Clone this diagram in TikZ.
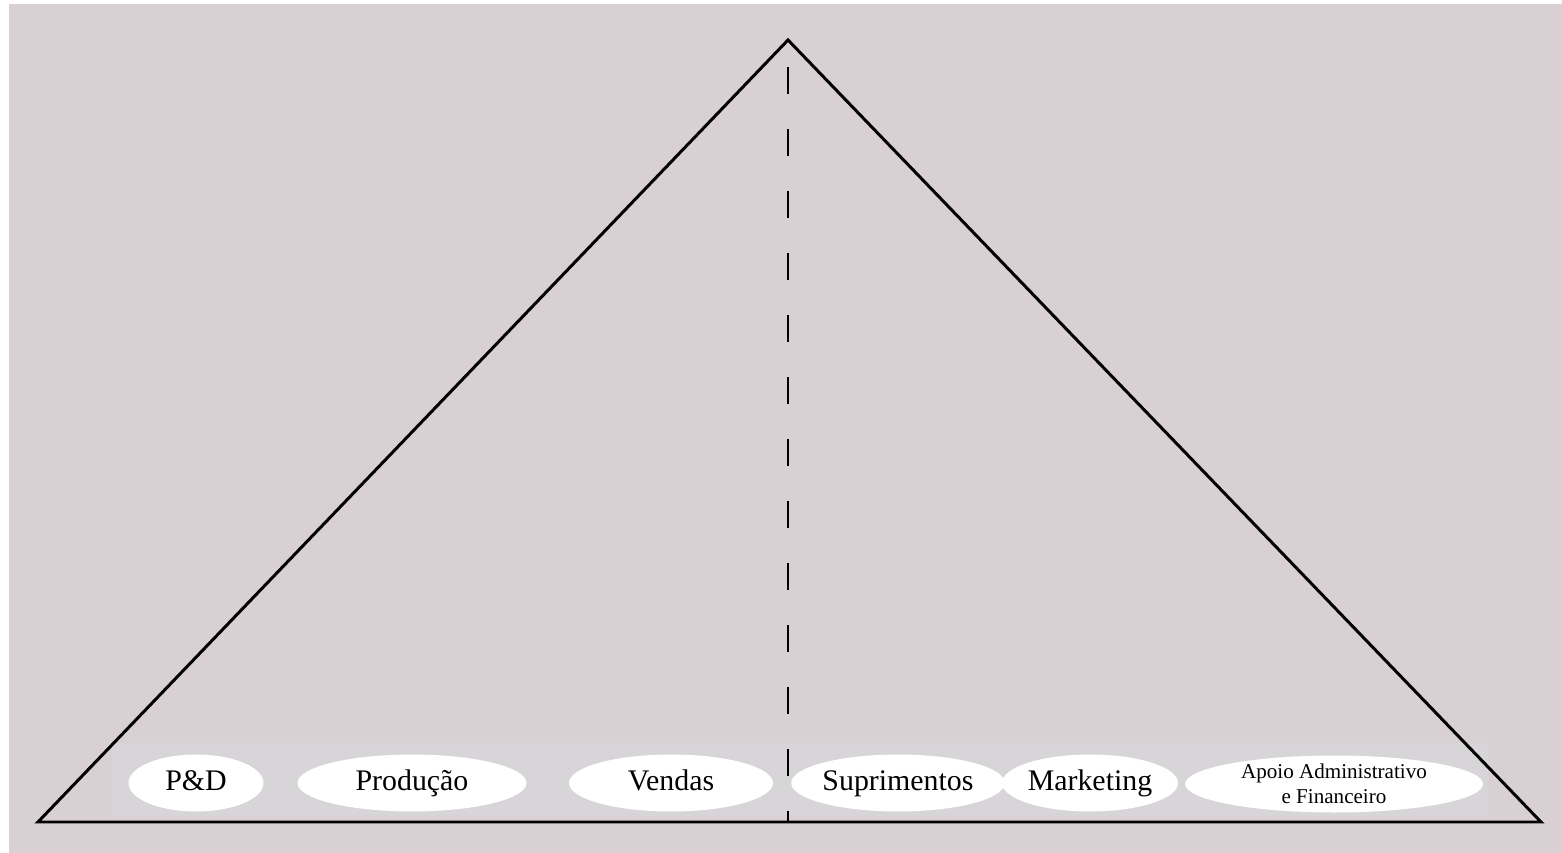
\documentclass[tikz,border=0pt]{standalone}
\usepackage{fontspec}
\setmainfont{Liberation Serif}
\usepackage{tikz}
\usetikzlibrary{calc,positioning,shapes.geometric}
\definecolor{mauvebg}{HTML}{D9D0D4}
\definecolor{bandgrey}{HTML}{D7D5D7}
\tikzset{%
	area/.style     = {draw=none, ellipse, fill=white, inner sep=0pt, minimum height=11.4mm, text centered}, % Functional area
	bigarea/.style  = {area, font=\fontsize{17}{20}\selectfont, text height=12pt, text depth=4pt},
	smallarea/.style= {area, font=\fontsize{12}{14.2}\selectfont, align=center},
	edge/.style     = {line width=1.7pt, line join=miter},
	axis/.style     = {line width=1.2pt, dash pattern=on 5.4mm off 7mm, dash phase=7mm},
}

\begin{document}
\begin{tikzpicture}[x=0.2mm,y=-0.2mm]
		\useasboundingbox (0,0) rectangle (1562,853);
		\fill[mauvebg] (9,4) rectangle (1562,853);
		\fill[bandgrey] (112,743) rectangle (1488,816);
		
		\coordinate (top) at (788,40);
		\coordinate (bl) at (38,822);
		\coordinate (br) at (1541,822);
		\coordinate (mid) at (788,822);
		
		\node [bigarea, minimum width=27mm] (pd) at (196,783) {P\&D};
		\node [bigarea, minimum width=45.8mm] (prod) at (412,783) {Produção};
		\node [bigarea, minimum width=40.8mm] (vend) at (671,783) {Vendas};
		\node [bigarea, minimum width=41.4mm] (supr) at (898,783) {Suprimentos};
		\node [bigarea, minimum width=32.4mm] (mkt) at (1090,783) {Marketing};
		\node [smallarea, minimum width=59.6mm] (apoio) at (1334,784) {Apoio Administrativo\\e Financeiro};
		
		\draw[axis] (top) -- (mid);
		\draw[edge] (bl) -- (top) -- (br) -- cycle;
	\end{tikzpicture}
\end{document}
